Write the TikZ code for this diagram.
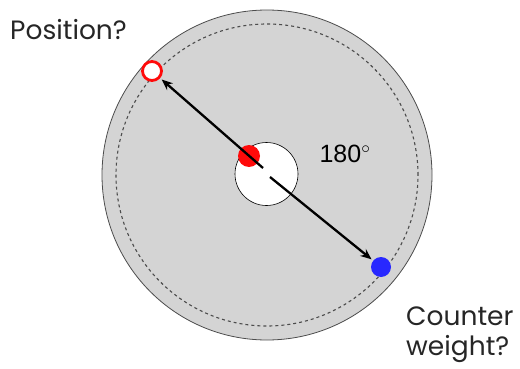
\documentclass[tikz,border=0pt]{standalone}
\usepackage{fontspec}
\setmainfont{Poppins}
\newfontfamily\arialfont{Liberation Sans}
\usetikzlibrary{arrows.meta}
\definecolor{diskgray}{RGB}{212,212,212}
\definecolor{dotred}{RGB}{255,10,10}
\definecolor{dotblue}{RGB}{40,40,255}

\begin{document}
\begin{tikzpicture}[x=1pt, y=1pt, >={Stealth[length=11pt, width=9pt]},
  sidetext/.style={font=\fontsize{26.5}{30}\selectfont, text=black!85, align=left, inner sep=0pt},
  weight/.style={circle, inner sep=0pt, minimum size=#1}]
  \useasboundingbox (0,0) rectangle (520,368);

  % disk, track and hole
  \coordinate (O) at (267,193);
  \fill[diskgray] (O) circle (165);
  \draw[black!70, line width=0.8pt] (O) circle (165);
  \draw[black!70, line width=1.1pt, dash pattern=on 3pt off 3pt] (O) circle (151);
  \coordinate (H) at (266.5,194);
  \draw[fill=white, line width=0.6pt] (H) circle (31.5);

  % weights
  \node[weight=22pt, fill=dotred] (R) at (249,212) {};
  \node[weight=19pt, draw=dotred, line width=2.8pt, fill=white] (P) at (152,297) {};
  \node[weight=20pt, fill=dotblue] (B) at (381,101) {};

  % arrows across the hub
  \coordinate (M1) at (263,200);
  \coordinate (M2) at (270,191);
  \draw[->, line width=2.3pt, shorten >=2pt] (M1) -- (P);
  \draw[->, line width=2.3pt, shorten >=2pt] (M2) -- (B);

  % texts
  \node[sidetext, anchor=base west] (pos) at (10,329) {Position?};
  \node[sidetext, anchor=base west] (cw) at (406,13) {Counter\\weight?};
  \node[font=\arialfont\fontsize{25}{30}\selectfont, inner sep=0pt] (ang) at (345,214) {180$^\circ$};
\end{tikzpicture}
\end{document}
